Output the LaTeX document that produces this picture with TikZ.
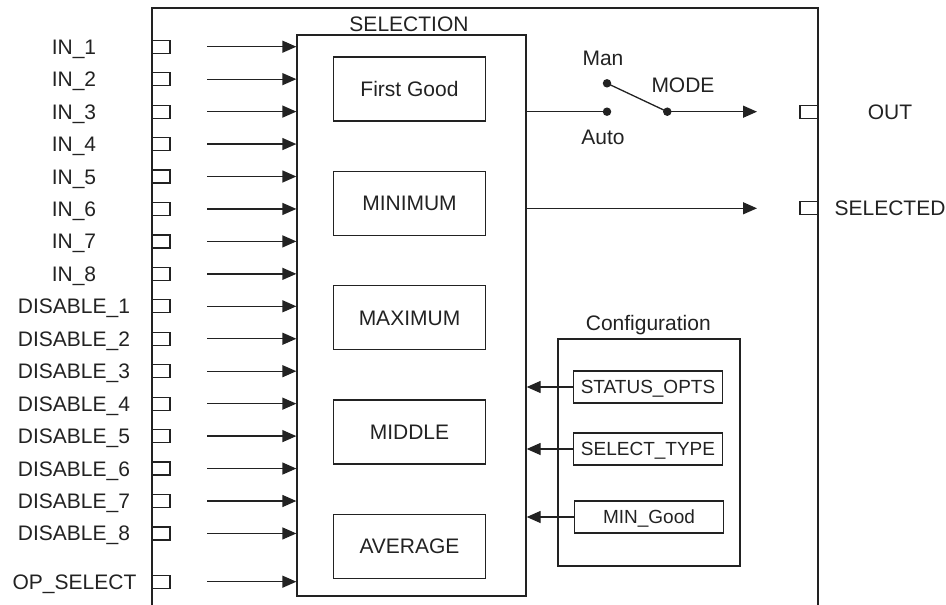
\documentclass[tikz,border=0pt]{standalone}
\usepackage{fontspec}
\setmainfont{Liberation Sans}
\usepackage{tikz}
\usetikzlibrary{arrows.meta,positioning}
\definecolor{LineGray}{HTML}{222222}
\tikzset{
  % Text
  TX/.style={font=\fontsize{21}{25}\selectfont,text=LineGray,
             text height=15pt,text depth=0pt,inner sep=0pt},
  TS/.style={font=\fontsize{19}{23}\selectfont,text=LineGray,
             text height=13.6pt,text depth=0pt,inner sep=0pt},
  % Function box
  FB/.style={TX,rectangle,draw=LineGray,line width=1.3pt,
             minimum width=152pt,minimum height=64pt},
  % Parameter box
  CB/.style={TS,rectangle,draw=LineGray,line width=1.3pt,
             minimum width=149pt,minimum height=32pt},
  % Frame box
  GB/.style={rectangle,draw=LineGray,line width=1.3pt,inner sep=0pt},
  % Port
  PT/.style={rectangle,draw=LineGray,line width=1.2pt,
             minimum width=18pt,minimum height=13pt,inner sep=0pt},
  % Switch contact
  DT/.style={circle,fill=LineGray,minimum size=8.5pt,inner sep=0pt},
  % Lines
  wire/.style={draw=LineGray,line width=1.3pt},
  arr/.style={wire,-{Triangle[length=14pt,width=12pt]}}
}

\begin{document}
\begin{tikzpicture}[x=1pt,y=-1pt]
  \useasboundingbox (0,0) rectangle (946,605);
  \draw[wire] (152,605) -- (152,8) -- (818,8) -- (818,605);

  % Selection block
  \node[GB,minimum width=229pt,minimum height=561pt] (sel) at (411.5,315.5) {};
  \node[TX] (selLbl) at (409,24) {SELECTION};
  \node[FB]                      (first) at (409.5,89) {First Good};
  \node[FB,below=49pt of first]  (min) {MINIMUM};
  \node[FB,below=49pt of min]    (max) {MAXIMUM};
  \node[FB,below=49pt of max]    (mid) {MIDDLE};
  \node[FB,below=49pt of mid]    (avg) {AVERAGE};

  % Inputs
  \foreach \lab [count=\i from 0] in {IN\_1,IN\_2,IN\_3,IN\_4,IN\_5,IN\_6,IN\_7,IN\_8,
      DISABLE\_1,DISABLE\_2,DISABLE\_3,DISABLE\_4,DISABLE\_5,DISABLE\_6,DISABLE\_7,DISABLE\_8}{
    \node[TX] (lbl\i) at (74,46.7+32.45*\i) {\lab};
    \node[PT] (prt\i) at (161,46.7+32.45*\i) {};
    \coordinate (src\i) at (207,46.7+32.45*\i);
    \draw[arr] (src\i) -- (src\i -| sel.west);
  }
  \node[TX] (opLbl) at (74.5,581.7) {OP\_SELECT};
  \node[PT] (opPrt) at (161,581.7) {};
  \coordinate (opSrc) at (207,581.7);
  \draw[arr] (opSrc) -- (opSrc -| sel.west);

  % Mode switch
  \node[DT] (man)  at (607,83.3) {};
  \node[DT] (auto) at (607,111.7) {};
  \node[DT] (piv)  at (667.3,111.7) {};
  \node[TX] (manLbl)  at (603,58) {Man};
  \node[TX] (autoLbl) at (603,137) {Auto};
  \node[TX] (modeLbl) at (683,85) {MODE};
  \coordinate (outEnd) at (757,111.7);
  \draw[wire] (auto -| sel.east) -- (auto.center);
  \draw[wire] (man.center) -- (piv.center);
  \draw[arr] (piv.center) -- (outEnd);

  % Outputs
  \node[PT] (outPrt) at (809,111.7) {};
  \node[TX] (outLbl) at (890,111.7) {OUT};
  \node[PT] (selPrt) at (809,208.3) {};
  \node[TX] (selOut) at (890,208.3) {SELECTED};
  \coordinate (selEnd) at (757,208.3);
  \draw[arr] (selEnd -| sel.east) -- (selEnd);

  % Configuration
  \node[GB,minimum width=182pt,minimum height=227pt] (cfg) at (649,452.5) {};
  \node[TX] (cfgLbl) at (648.3,323.3) {Configuration};
  \node[CB] (stat) at (648,387) {STATUS\_OPTS};
  \node[CB] (styp) at (648,449) {SELECT\_TYPE};
  \node[CB] (ming) at (649,517) {MIN\_Good};
  \foreach \b in {stat,styp,ming}
    \draw[arr] (\b.west) -- (\b.west -| sel.east);
\end{tikzpicture}
\end{document}
